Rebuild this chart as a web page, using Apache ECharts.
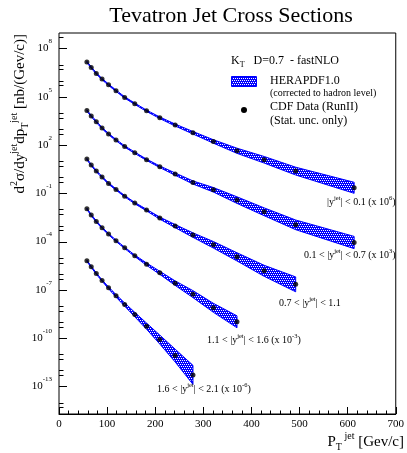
<!DOCTYPE html>
<html><head><meta charset="utf-8">
<script src="https://cdn.jsdelivr.net/npm/echarts@6/dist/echarts.min.js"></script>
<style>html,body{margin:0;padding:0;background:#fff}#c{width:407px;height:453px}</style>
</head><body><div id="c"></div>
<script>
// ---- data ----
const ptBins = [58, 67, 77.5, 89.5, 103, 118.5, 136.5, 157.5, 182, 209.5, 241.5, 278.5, 321, 370, 426.5, 492, 613.5];

// CDF data (scaled as in the picture)
const cdfY1 = [1.43e7, 6.59e6, 2.79e6, 1.25e6, 5.55e5, 2.35e5, 9.02e4, 3.66e4, 1.34e4, 4.93e3, 1.74e3, 577, 166, 43.9, 12.1, 2.40, 0.220];
const cdfY2 = [1.40e4, 6.30e3, 2.78e3, 1.13e3, 479, 203, 81.1, 33.0, 12.1, 4.45, 1.56, 0.470, 0.165, 0.0378, 7.10e-3, 1.10e-3, 8.77e-5];
const cdfY3 = [13.4, 5.66, 2.40, 1.02, 0.407, 0.173, 0.0661, 0.0247, 9.06e-3, 2.88e-3, 9.16e-4, 2.53e-4, 6.31e-5, 1.13e-5, 1.53e-6, 2.21e-7];
const cdfY4 = [1.09e-2, 4.43e-3, 1.77e-3, 7.19e-4, 2.92e-4, 1.12e-4, 4.10e-5, 1.31e-5, 3.98e-6, 1.15e-6, 2.63e-7, 5.45e-8, 7.67e-9, 1.04e-9];
const cdfY5 = [6.40e-6, 2.71e-6, 1.04e-6, 3.81e-7, 1.34e-7, 4.27e-8, 1.23e-8, 2.94e-9, 5.58e-10, 8.20e-11, 8.32e-12, 5.25e-13];

// HERAPDF1.0 band: multiplicative half-width of the band around each point
const band1 = [1.1, 1.1, 1.1, 1.1, 1.1, 1.1, 1.1, 1.1, 1.1, 1.12, 1.15, 1.2, 1.28, 1.45, 1.6, 1.75, 2.2];
const band2 = [1.1, 1.1, 1.1, 1.1, 1.1, 1.1, 1.1, 1.1, 1.1, 1.12, 1.18, 1.25, 1.38, 1.6, 1.75, 2.0, 2.4];
const band3 = [1.1, 1.1, 1.1, 1.1, 1.1, 1.1, 1.1, 1.1, 1.12, 1.16, 1.25, 1.38, 1.6, 1.8, 2.2, 2.9];
const band4 = [1.1, 1.1, 1.1, 1.1, 1.1, 1.1, 1.1, 1.12, 1.18, 1.25, 1.38, 1.65, 1.9, 2.35];
const band5 = [1.1, 1.1, 1.1, 1.1, 1.14, 1.2, 1.26, 1.38, 1.55, 1.9, 2.5, 3.9];

// y tick values and labels
const yMajorTicks = [1e8, 1e5, 1e2, 1e-1, 1e-4, 1e-7, 1e-10, 1e-13];
const yTickLabels = ['8', '5', '2', '-1', '-4', '-7', '-10', '-13'];
const yMinorTicks = [5e8, 1e7, 5e6, 1e6, 5e5, 1e4, 5e3, 1e3, 5e2, 1e1, 5e0, 1e0, 5e-1, 1e-2, 5e-3, 1e-3, 5e-4,
  1e-5, 5e-6, 1e-6, 5e-7, 1e-8, 5e-9, 1e-9, 5e-10, 1e-11, 5e-12, 1e-12, 5e-13, 1e-14, 5e-15];

const binLabels = [
  '{b||y}{s|jet}{b|| < 0.1 (x 10}{s|6}{b|)}',
  '{b|0.1 < |y}{s|jet}{b|| < 0.7 (x 10}{s|3}{b|)}',
  '{b|0.7 < |y}{s|jet}{b|| < 1.1}',
  '{b|1.1 < |y}{s|jet}{b|| < 1.6 (x 10}{s|-3}{b|)}',
  '{b|1.6 < |y}{s|jet}{b|| < 2.1 (x 10}{s|-6}{b|)}'
];

// ---- rendering ----
const FONT = 'Liberation Serif';
const pc = document.createElement('canvas');
pc.width = 4; pc.height = 4;
const pctx = pc.getContext('2d');
pctx.fillStyle = '#0000ff'; pctx.fillRect(0, 0, 4, 4);
pctx.fillStyle = '#ffffff';
[[0, 0], [2, 0], [1, 2], [3, 2]].forEach(q => pctx.fillRect(q[0], q[1], 1, 1));
const pattern = { image: pc, repeat: 'repeat' };

const cdfAll = [cdfY1, cdfY2, cdfY3, cdfY4, cdfY5];
const bandAll = [band1, band2, band3, band4, band5];

function bandRender(vals, fac) {
  return function (params, api) {
    if (params.dataIndex !== 0) return null;
    const up = [], lo = [];
    for (let i = 0; i < vals.length; i++) {
      up.push(api.coord([ptBins[i], vals[i] * fac[i]]));
      lo.push(api.coord([ptBins[i], vals[i] / fac[i]]));
    }
    return {
      type: 'polygon',
      shape: { points: up.concat(lo.reverse()) },
      style: { fill: pattern, stroke: '#0000ff', lineWidth: 1 }
    };
  };
}

const series = [];
cdfAll.forEach((vals, k) => {
  series.push({
    type: 'custom', z: 2, clip: false,
    data: vals.map((v, i) => [ptBins[i], v]),
    renderItem: bandRender(vals, bandAll[k])
  });
});
cdfAll.forEach((vals) => {
  series.push({
    type: 'scatter', z: 3, symbol: 'circle', symbolSize: 5,
    itemStyle: { color: '#000' },
    data: vals.map((v, i) => [ptBins[i], v])
  });
});

function tok(size, pad, color) {
  return { fontFamily: FONT, fontSize: size, lineHeight: size, padding: pad, verticalAlign: 'middle', color: color || '#000' };
}
const supRich = { b: tok(11, [0, 0, 0, 0]), s: tok(7, [0, 0, 14, 0]) };
// major y ticks with labels
series.push({
  type: 'custom', z: 5, clip: false, silent: true,
  data: yMajorTicks.map(v => [0, v]),
  renderItem: function (params, api) {
    const p = api.coord([0, api.value(1)]);
    const y = Math.round(p[1]) + 0.5;
    return {
      type: 'group', children: [
        { type: 'line', shape: { x1: p[0], y1: y, x2: p[0] + 8, y2: y }, style: { stroke: '#000', lineWidth: 1 } },
        { type: 'text', x: p[0] - 7, y: p[1], style: {
          text: '{b|10}{s|' + yTickLabels[params.dataIndex] + '}', rich: supRich,
          align: 'right', verticalAlign: 'middle' } }
      ]
    };
  }
});
// minor y ticks
series.push({
  type: 'custom', z: 5, clip: false, silent: true,
  data: yMinorTicks.map(v => [0, v]),
  renderItem: function (params, api) {
    const p = api.coord([0, api.value(1)]);
    const y = Math.round(p[1]) + 0.5;
    return { type: 'line', shape: { x1: p[0], y1: y, x2: p[0] + 4.5, y2: y }, style: { stroke: '#000', lineWidth: 1 } };
  }
});

const labRich = { b: tok(10, [0, 0, 0, 0], '#222'), s: tok(6.5, [0, 0, 8, 0], '#222') };
const labPos = [[327, 202], [304, 255], [279, 303], [207, 340], [157, 389]];
const graphics = [];
binLabels.forEach((t, i) => {
  graphics.push({ type: 'text', x: labPos[i][0], y: labPos[i][1], z: 10,
    style: { text: t, rich: labRich, align: 'left', verticalAlign: 'middle' } });
});

// title
graphics.push({ type: 'text', x: 231, y: 16, z: 10,
  style: { text: 'Tevatron Jet Cross Sections', fontFamily: FONT, fontSize: 22, fill: '#000', align: 'center', verticalAlign: 'middle' } });

// axis titles
const titleRich = { b: tok(15, [0, 0, 0, 0]), s: tok(10, [0, 0, 12, 0]), t: tok(10, [10, 0, 0, 0]) };
graphics.push({ type: 'text', x: 20, y: 34, rotation: Math.PI / 2, z: 10,
  style: { text: '{b|d}{s|2}{b|σ/dy}{s|jet}{b|dp}{t|T}{s|jet}{b| [nb/(Gev/c)]}', rich: titleRich, align: 'right', verticalAlign: 'middle' } });
graphics.push({ type: 'text', x: 404, y: 442, z: 10,
  style: { text: '{b|P}{t|T}{s| jet}{b| [Gev/c]}', rich: titleRich, align: 'right', verticalAlign: 'middle' } });

// legend
const legRich = { b: tok(12, [0, 0, 0, 0]), t: tok(8, [8, 0, 0, 0]) };
graphics.push({ type: 'text', x: 231, y: 61, z: 10,
  style: { text: '{b|K}{t|T}{b|   D=0.7  - fastNLO}', rich: legRich, align: 'left', verticalAlign: 'middle' } });
graphics.push({ type: 'rect', shape: { x: 231.5, y: 76.5, width: 25, height: 10 }, z: 10,
  style: { fill: pattern, stroke: '#0000ff', lineWidth: 1 } });
graphics.push({ type: 'text', x: 270, y: 81, z: 10,
  style: { text: 'HERAPDF1.0', fontFamily: FONT, fontSize: 12, fill: '#000', align: 'left', verticalAlign: 'middle' } });
graphics.push({ type: 'text', x: 270, y: 93.5, z: 10,
  style: { text: '(corrected to hadron level)', fontFamily: FONT, fontSize: 10, fill: '#000', align: 'left', verticalAlign: 'middle' } });
graphics.push({ type: 'circle', shape: { cx: 244, cy: 110, r: 3 }, z: 10, style: { fill: '#000' } });
graphics.push({ type: 'text', x: 270, y: 107, z: 10,
  style: { text: 'CDF Data (RunII)', fontFamily: FONT, fontSize: 12, fill: '#000', align: 'left', verticalAlign: 'middle' } });
graphics.push({ type: 'text', x: 270, y: 120.5, z: 10,
  style: { text: '(Stat. unc. only)', fontFamily: FONT, fontSize: 12, fill: '#000', align: 'left', verticalAlign: 'middle' } });

const chart = echarts.init(document.getElementById('c'), null, { renderer: 'canvas' });
chart.setOption({
  animation: false,
  backgroundColor: '#fff',
  grid: { left: 59, right: 4, top: 33, bottom: 39, show: true, borderColor: '#000', borderWidth: 1, backgroundColor: 'transparent' },
  xAxis: {
    type: 'value', min: 0, max: 700, interval: 100,
    axisLine: { show: true, lineStyle: { color: '#000', width: 1 } },
    axisTick: { show: true, inside: true, length: 7, lineStyle: { color: '#000' } },
    minorTick: { show: true, splitNumber: 5, length: 3.5, lineStyle: { color: '#000' } },
    splitLine: { show: false },
    axisLabel: { color: '#000', fontFamily: FONT, fontSize: 11, margin: 5 }
  },
  yAxis: {
    type: 'log', logBase: 10, min: 1.95e-15, max: 9.1e8,
    axisLine: { show: false }, axisTick: { show: false }, axisLabel: { show: false },
    splitLine: { show: false }, minorTick: { show: false }
  },
  series: series,
  graphic: graphics
});
</script>
</body></html>
